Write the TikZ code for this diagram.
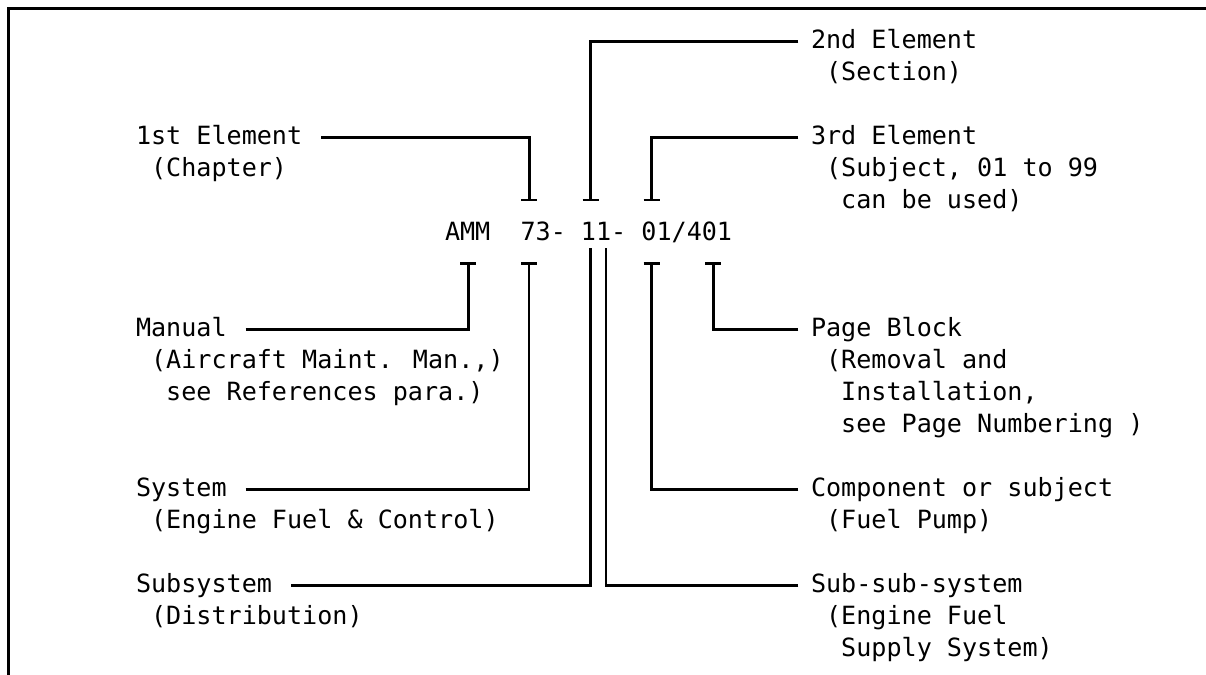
\documentclass[tikz,border=0pt]{standalone}
\usepackage{fontspec}
\newfontfamily\dvmono{DejaVu Sans Mono}
\begin{document}
\begin{tikzpicture}[x=0.5pt,y=-0.5pt,
  lbl/.style={anchor=base west, inner sep=0pt, outer sep=0pt, font=\dvmono\fontsize{12.55}{16}\selectfont},
  ln/.style={line width=1.25pt, line cap=butt, line join=miter},
  framestyle/.style={line width=1.5pt, line join=miter}]
\useasboundingbox (0,0) rectangle (1206,675);

% frame (top and left edges)
\draw[framestyle] (1206,8) -- (8,8) -- (8,675);

% central code
\node[lbl] (amm) at (445,240.5) {AMM~~73- 11- 01/401};

% left column
\node[lbl] (e1)  at (136,144) {1st Element};
\node[lbl] (e1a) at (151.1,176) {(Chapter)};
\node[lbl] (man)  at (136,336) {Manual};
\node[lbl] (mana) at (151.1,368) {(Aircraft Maint. Man.,)};
\node[lbl] (manb) at (166.2,400) {see References para.)};
\node[lbl] (sys)  at (136,496) {System};
\node[lbl] (sysa) at (151.1,528) {(Engine Fuel \& Control)};
\node[lbl] (sub)  at (136,592) {Subsystem};
\node[lbl] (suba) at (151.1,624) {(Distribution)};

% right column
\node[lbl] (e2)  at (811,48) {2nd Element};
\node[lbl] (e2a) at (826.1,80) {(Section)};
\node[lbl] (e3)  at (811,144) {3rd Element};
\node[lbl] (e3a) at (826.1,176) {(Subject, 01 to 99};
\node[lbl] (e3b) at (841.2,208) {can be used)};
\node[lbl] (page)  at (811,336) {Page Block};
\node[lbl] (pagea) at (826.1,368) {(Removal and};
\node[lbl] (pageb) at (841.2,400) {Installation,};
\node[lbl] (pagec) at (841.2,432) {see Page Numbering )};
\node[lbl] (comp)  at (811,496) {Component or subject};
\node[lbl] (compa) at (826.1,528) {(Fuel Pump)};
\node[lbl] (ssub)  at (811,592) {Sub-sub-system};
\node[lbl] (ssuba) at (826.1,624) {(Engine Fuel};
\node[lbl] (ssubb) at (841.2,656) {Supply System)};

% tick points
\coordinate (t1) at (529.3,200);
\coordinate (t2) at (590.7,200);
\coordinate (t3) at (651.7,200);
\coordinate (b1) at (468.3,263.3);
\coordinate (b2) at (529.0,263.3);
\coordinate (b3) at (590.7,248.3);
\coordinate (b4) at (605.8,248.3);
\coordinate (b5) at (651.7,263.3);
\coordinate (b6) at (713.3,263.3);

% tick bars
\foreach \p in {t1,t2,t3,b1,b2,b5,b6}
  \draw[ln] ([xshift=-4pt]\p) -- ([xshift=4pt]\p);

% connectors
\draw[ln] ([xshift=9.5pt,yshift=1.2pt]e1.mid east) -| (t1);
\draw[ln] ([xshift=-6.3pt,yshift=1.2pt]e2.mid west) -| (t2);
\draw[ln] ([xshift=-6.3pt,yshift=1.2pt]e3.mid west) -| (t3);
\draw[ln] ([xshift=9.5pt,yshift=1.2pt]man.mid east) -| (b1);
\draw[ln] ([xshift=9.5pt,yshift=1.2pt]sys.mid east) -| (b2);
\draw[ln] ([xshift=9.5pt,yshift=1.2pt]sub.mid east) -| (b3);
\draw[ln] ([xshift=-6.3pt,yshift=1.2pt]ssub.mid west) -| (b4);
\draw[ln] ([xshift=-6.3pt,yshift=1.2pt]comp.mid west) -| (b5);
\draw[ln] ([xshift=-6.3pt,yshift=1.2pt]page.mid west) -| (b6);
\end{tikzpicture}
\end{document}
